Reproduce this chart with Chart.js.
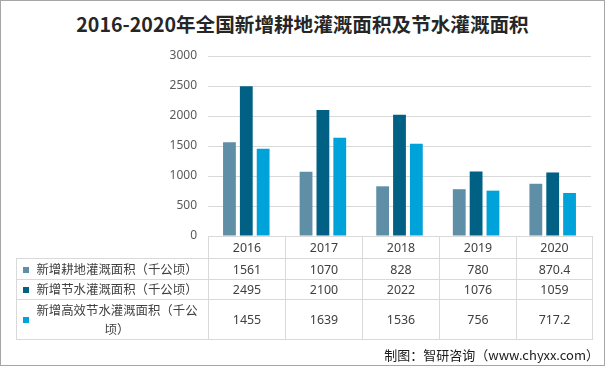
<!DOCTYPE html>
<html>
<head>
<meta charset="utf-8">
<script src="https://cdn.jsdelivr.net/npm/chart.js@4"></script>
<style>
  html, body { margin: 0; padding: 0; background: #fff; }
  #wrap { position: relative; width: 603px; height: 364px; border: 1px solid #a6a6a6; overflow: hidden;
          font-family: "Noto Sans", "Noto Sans CJK SC", sans-serif; }
  #title { position: absolute; left: 0; top: 8px; width: 603px; text-align: center; font-size: 19.6px;
           font-weight: bold; color: #262626; font-family: "Noto Sans CJK SC", sans-serif; line-height: 30px; }
  canvas { position: absolute; left: -1px; top: -1px; }
  #tbl { position: absolute; left: 15px; top: 235px; border-collapse: collapse; table-layout: fixed;
         font-size: 12.4px; color: #404040; }
  #tbl td { padding: 0; text-align: center; border: 1px solid #d9d9d9; }
  #tbl td.blank { border-left: none; border-top: none; }
  #tbl td.lbl { position: relative; }
  #tbl .mk { position: absolute; left: 6px; width: 6px; height: 6px; }
  #tbl .txt { display: block; margin-left: 17px; width: 166px; text-align: center; line-height: 19px; }
  #src { position: absolute; right: 5px; top: 344px; font-size: 13px; color: #1a1a1a;
         font-family: "Noto Sans CJK SC", sans-serif; }
</style>
</head>
<body>
<div id="wrap">
  <div id="title">2016-2020年全国新增耕地灌溉面积及节水灌溉面积</div>
  <canvas id="c" width="605" height="366"></canvas>
  <table id="tbl"></table>
  <div id="src">制图：智研咨询（www.chyxx.com）</div>
</div>
<script>
// ---- data ----
const years = ['2016', '2017', '2018', '2019', '2020'];
const seriesNames = ['新增耕地灌溉面积（千公顷）', '新增节水灌溉面积（千公顷）', '新增高效节水灌溉面积（千公顷）'];
const farmland = [1561, 1070, 828, 780, 870.4];
const waterSaving = [2495, 2100, 2022, 1076, 1059];
const efficient = [1455, 1639, 1536, 756, 717.2];
const yTicks = [0, 500, 1000, 1500, 2000, 2500, 3000];

const colors = ['#5f8fa6', '#006185', '#00a3d9'];
const values = [farmland, waterSaving, efficient];

new Chart(document.getElementById('c'), {
  type: 'bar',
  data: {
    labels: years,
    datasets: values.map((v, i) => ({
      label: seriesNames[i], data: v, backgroundColor: colors[i],
      categoryPercentage: 0.66, barPercentage: 0.76
    }))
  },
  options: {
    responsive: false, animation: false, devicePixelRatio: 1,
    layout: { padding: { top: 56, left: 0, right: 14, bottom: 130 } },
    plugins: { legend: { display: false }, tooltip: { enabled: false } },
    scales: {
      x: { display: false },
      y: {
        min: 0, max: 3000,
        afterBuildTicks: s => { s.ticks = yTicks.map(v => ({ value: v })); },
        afterFit: s => { s.width = 208; },
        ticks: { color: '#595959', font: { size: 12, family: 'Noto Sans' }, padding: 11,
                 callback: v => String(v) },
        grid: { color: '#d9d9d9', drawTicks: false },
        border: { display: false }
      }
    }
  }
});

// ---- data table under the plot ----
const tbl = document.getElementById('tbl');
const colW = [192, 77, 77, 77, 77, 76];
tbl.innerHTML =
  '<colgroup>' + colW.map(w => `<col style="width:${w}px">`).join('') + '</colgroup>' +
  `<tr style="height:22px"><td class="blank"></td>${years.map(y => `<td>${y}</td>`).join('')}</tr>` +
  seriesNames.map((n, i) => {
    const h = i === 2 ? 40 : (i === 0 ? 21 : 20);
    return `<tr style="height:${h}px"><td class="lbl">
      <span class="mk" style="background:${colors[i]};top:${h / 2 - 3}px"></span>
      <span class="txt">${n}</span></td>
      ${values[i].map(v => `<td>${v}</td>`).join('')}</tr>`;
  }).join('');
</script>
</body>
</html>
